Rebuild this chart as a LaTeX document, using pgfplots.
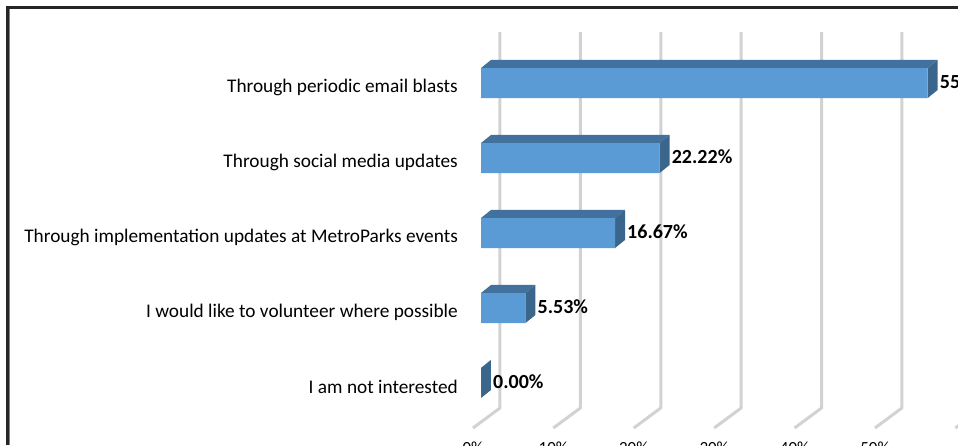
\documentclass[border=0pt]{standalone}
\usepackage{pgfplots}
\pgfplotsset{compat=1.18}
\usepackage{fontspec}
\setmainfont{Carlito}
\definecolor{barfront}{HTML}{5B9BD5}
\definecolor{bardark}{HTML}{41719C}
\definecolor{gridgray}{HTML}{D2D2D2}
\begin{document}
\begin{tikzpicture}
\clip[use as bounding box] (0,0) rectangle (958pt,445pt);
\begin{axis}[
at={(0,0)}, anchor=south west,
scale only axis, width=958pt, height=445pt,
xmin=-59.83, xmax=59.33, ymin=-0.8267, ymax=5.1067,
axis line style={draw=none}, clip=false,
major tick length=0pt, tick style={draw=none},
axis x line*=bottom, axis y line*=left,
xtick={0,10,...,60},
xticklabel={\pgfmathprintnumber{\tick}\%},
x tick label style={/pgf/number format/assume math mode=true, font=\fontsize{17}{19}\selectfont, anchor=north, inner sep=0pt, xshift=-8pt, yshift=3pt},
ytick={0,1,2,3,4},
yticklabels={I am not interested, I would like to volunteer where possible, Through implementation updates at MetroParks events, Through social media updates, Through periodic email blasts},
y tick label style={font=\fontsize{19.3}{21}\selectfont, anchor=east, xshift=458pt, yshift=-4pt, inner sep=0pt},
]
% wall and floor lines
\addplot[gridgray, line width=3pt, line join=round] coordinates {(2.36,4.68) (2.36,-0.333) (-1,-0.6)};
\addplot[gridgray, line width=3pt, line join=round] coordinates {(12.36,4.68) (12.36,-0.333) (9,-0.6)};
\addplot[gridgray, line width=3pt, line join=round] coordinates {(22.36,4.68) (22.36,-0.333) (19,-0.6)};
\addplot[gridgray, line width=3pt, line join=round] coordinates {(32.36,4.68) (32.36,-0.333) (29,-0.6)};
\addplot[gridgray, line width=3pt, line join=round] coordinates {(42.36,4.68) (42.36,-0.333) (39,-0.6)};
\addplot[gridgray, line width=3pt, line join=round] coordinates {(52.36,4.68) (52.36,-0.333) (49,-0.6)};
\addplot[gridgray, line width=3pt, line join=round] coordinates {(62.36,4.68) (62.36,-0.333) (59,-0.6)};
% top faces
\addplot[fill=bardark, draw=none] coordinates {(0,4.2) (55.56,4.2) (56.8,4.307) (1.24,4.307)} -- cycle;
\addplot[fill=bardark, draw=none] coordinates {(0,3.2) (22.22,3.2) (23.46,3.307) (1.24,3.307)} -- cycle;
\addplot[fill=bardark, draw=none] coordinates {(0,2.2) (16.67,2.2) (17.91,2.307) (1.24,2.307)} -- cycle;
\addplot[fill=bardark, draw=none] coordinates {(0,1.2) (5.53,1.2) (6.77,1.307) (1.24,1.307)} -- cycle;
\addplot[fill=bardark, draw=none] coordinates {(0,0.2) (0,0.2) (1.24,0.307) (1.24,0.307)} -- cycle;
% side faces
\addplot[fill=bardark!90!black, draw=none] coordinates {(55.56,4.2) (56.8,4.307) (56.8,3.907) (55.56,3.8)} -- cycle;
\addplot[fill=bardark!90!black, draw=none] coordinates {(22.22,3.2) (23.46,3.307) (23.46,2.907) (22.22,2.8)} -- cycle;
\addplot[fill=bardark!90!black, draw=none] coordinates {(16.67,2.2) (17.91,2.307) (17.91,1.907) (16.67,1.8)} -- cycle;
\addplot[fill=bardark!90!black, draw=none] coordinates {(5.53,1.2) (6.77,1.307) (6.77,0.907) (5.53,0.8)} -- cycle;
\addplot[fill=bardark!90!black, draw=none] coordinates {(0,0.2) (1.24,0.307) (1.24,-0.093) (0,-0.2)} -- cycle;
% front faces with value labels
\addplot[xbar, bar width=30pt, bar shift=0pt, fill=barfront, draw=none,
  point meta=x,
  nodes near coords={\pgfmathprintnumber[fixed, fixed zerofill, precision=2, assume math mode=true]{\pgfplotspointmeta}\%},
  nodes near coords align={horizontal},
  every node near coord/.append style={font=\bfseries\fontsize{20}{22}\selectfont, text=black, inner sep=0pt, xshift=12pt, yshift=1pt},
] coordinates {(55.56,4) (22.22,3) (16.67,2) (5.53,1) (0,0)};
\end{axis}
% outer frame
\draw[gray, line width=1pt] (9.5pt,0) -- (9.5pt,436pt);
\draw[black!85, line width=3pt] (7.5pt,0) -- (7.5pt,437.5pt) -- (958pt,437.5pt);
\end{tikzpicture}
\end{document}
